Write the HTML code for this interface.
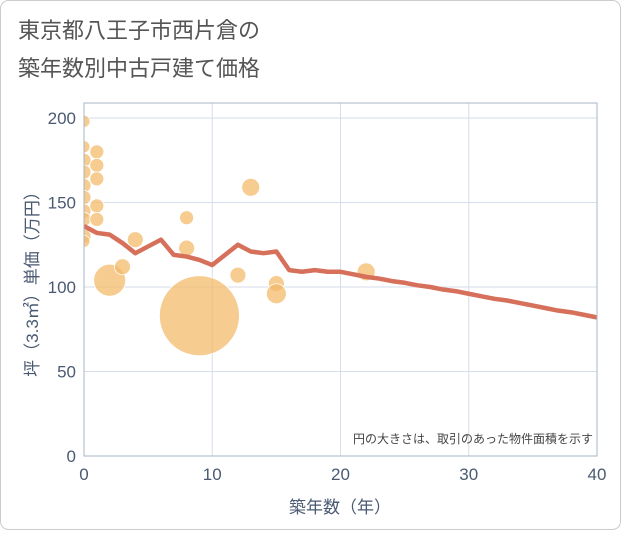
<!DOCTYPE html>
<html><head><meta charset="utf-8"><style>
body{margin:0;background:#fff;}
#wrap{width:621px;height:530px;position:relative;font-family:"Liberation Sans","Noto Sans CJK JP",sans-serif;}
</style></head><body>
<div id="wrap">
<svg id="svg" width="621" height="530" xmlns="http://www.w3.org/2000/svg">
<defs><clipPath id="plotclip"><rect x="84" y="103" width="513" height="353"/></clipPath></defs>
<rect x="0.5" y="0.5" width="620" height="529" rx="8" fill="#fff" stroke="#ccc"/>
<text x="18" y="38" font-size="22" fill="#555">東京都八王子市西片倉の</text>
<text x="18" y="76" font-size="22" fill="#555">築年数別中古戸建て価格</text>
<g id="grid"></g>
<g id="bubbles" clip-path="url(#plotclip)"></g>
<g id="line" clip-path="url(#plotclip)"></g>
<rect x="84" y="103" width="513" height="353" fill="none" stroke="#a9b4c4"/>
<g id="ticks"></g>
<text x="593" y="443" font-size="12" fill="#444" text-anchor="end">円の大きさは、取引のあった物件面積を示す</text>
<text x="340" y="513" font-size="17" fill="#4a5a72" text-anchor="middle">築年数（年）</text>
<text transform="translate(38,280) rotate(-90)" font-size="17" fill="#4a5a72" text-anchor="middle">坪（3.3㎡）単価（万円）</text>
</svg>
</div>
<script>
const xTicks=[0,10,20,30,40];
const yTicks=[0,50,100,150,200];
const bubbleX=[0,0,0,0,0,0,0,0,0,0,1,1,1,1,1,2,3,4,8,8,9,12,13,15,15,22];
const bubbleY=[198,183,175,168,160,153,145,140,130,127,180,172,164,148,140,104,112,128,141,123,83,107,159,102,96,109];
const bubbleR=[6,6,7,7,7,7,7,7,7,6,7,7,7,7,7,16,8,8,7,8,40,8,9,8,10,9];
const lineX=[0,1,2,3,4,5,6,7,8,9,10,11,12,13,14,15,16,17,18,19,20,21,22,23,24,25,26,27,28,29,30,31,32,33,34,35,36,37,38,39,40];
const lineY=[136,132,131,126,120,124,128,119,118,116,113,119,125,121,120,121,110,109,110,109,109,107.5,106,105,103.5,102.5,101,100,98.5,97.5,96,94.5,93,92,90.5,89,87.5,86,85,83.5,82];
const NS="http://www.w3.org/2000/svg";
const sx=v=>84+v*(513/40);
const sy=v=>456-v*1.69;
function mk(tag,attrs,parent){const e=document.createElementNS(NS,tag);for(const k in attrs)e.setAttribute(k,attrs[k]);parent.appendChild(e);return e;}
const grid=document.getElementById('grid'),ticks=document.getElementById('ticks');
xTicks.forEach(t=>{
 const l=mk('line',{x1:sx(t),x2:sx(t),y1:103,y2:456,stroke:'#d5deea'},grid);
 
 
 const tx=mk('text',{x:sx(t),y:480,'font-size':17,fill:'#4a5a72','text-anchor':'middle'},ticks);
 tx.textContent=t;
 
 
});
yTicks.forEach(t=>{
 const l=mk('line',{x1:84,x2:597,y1:sy(t),y2:sy(t),stroke:'#d5deea'},grid);
 
 
 const tx=mk('text',{x:76,y:sy(t)+6,'font-size':17,fill:'#4a5a72','text-anchor':'end'},ticks);
 tx.textContent=t;
 
 
});
const bg=document.getElementById('bubbles');
bubbleX.forEach((x,i)=>{
 const c=mk('circle',{cx:sx(x),cy:sy(bubbleY[i]),r:bubbleR[i],fill:'#f3bb6b','fill-opacity':0.75,stroke:'#fff','stroke-width':0.8},bg);
 
 
});
const pts=lineX.map((x,i)=>sx(x)+','+sy(lineY[i])).join(' ');
const pl=mk('polyline',{points:pts,fill:'none',stroke:'#d6705a','stroke-width':4.5,'stroke-linejoin':'round'},document.getElementById('line'));


</script>
</body></html>
